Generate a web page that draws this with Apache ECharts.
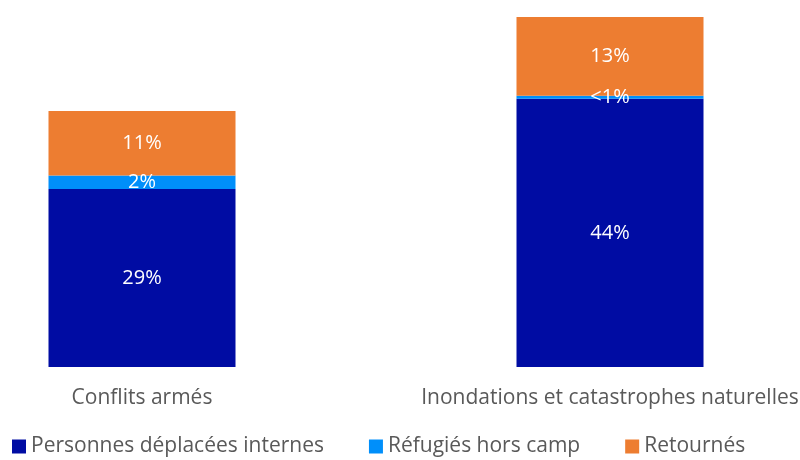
<!DOCTYPE html>
<html>
<head>
<meta charset="utf-8">
<script src="https://cdn.jsdelivr.net/npm/echarts@6/dist/echarts.min.js"></script>
<style>
  html, body { margin: 0; padding: 0; background: #fff; }
  #chart { width: 800px; height: 460px; }
</style>
</head>
<body>
<div id="chart"></div>
<script>
// catégories et valeurs (en %)
var categories = ['Conflits armés', 'Inondations et catastrophes naturelles'];
var seriesNames = ['Personnes déplacées internes', 'Réfugiés hors camp', 'Retournés'];
var pdiValues = [29.2, 44.0];
var refugiesValues = [2.2, 0.5];
var retournesValues = [10.6, 12.9];

var colors = ['#000CA3', '#008FFA', '#ED7D31'];
var fontFamily = '"Open Sans", "Liberation Sans", sans-serif';

function fmtLabel(p) {
	var v = p.value;
	if (v < 1) return '<1%';
	return Math.round(v) + '%';
}

function makeSeries(name, data, color) {
	return {
		name: name,
		type: 'bar',
		stack: 'total',
		barWidth: 187,
		data: data,
		itemStyle: { color: color },
		label: {
			show: true,
			position: 'inside',
			color: '#fff',
			fontFamily: fontFamily,
			fontSize: 20,
			formatter: fmtLabel
		}
	};
}

var myChart = echarts.init(document.getElementById('chart'));
var option = {
	animation: false,
	color: colors,
	grid: {
		left: -92,
		width: 936,
		top: 17,
		bottom: 93,
		outerBoundsMode: 'none',
		containLabel: false
	},
	legend: {
		bottom: -2,
		left: 7,
		itemWidth: 14,
		itemHeight: 14,
		itemGap: 45,
		icon: 'rect',
		textStyle: {
			color: '#595959',
			fontFamily: fontFamily,
			fontSize: 21
		},
		data: seriesNames
	},
	xAxis: {
		type: 'category',
		data: categories,
		axisLine: { show: false },
		axisTick: { show: false },
		axisLabel: {
			color: '#595959',
			fontFamily: fontFamily,
			fontSize: 21,
			margin: 21,
			interval: 0
		}
	},
	yAxis: {
		type: 'value',
		min: 0,
		max: 'dataMax',
		show: false,
		splitLine: { show: false }
	},
	series: [
		makeSeries(seriesNames[0], pdiValues, colors[0]),
		makeSeries(seriesNames[1], refugiesValues, colors[1]),
		makeSeries(seriesNames[2], retournesValues, colors[2])
	]
};
myChart.setOption(option);
</script>
</body>
</html>
